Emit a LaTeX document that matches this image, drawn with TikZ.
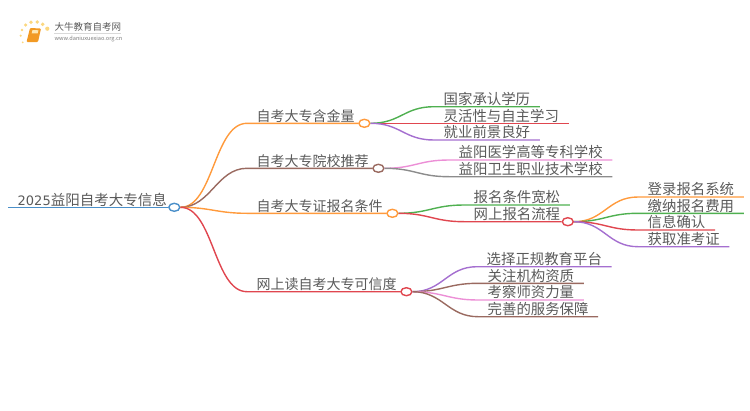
\documentclass[tikz,border=0pt]{standalone}
\usepackage{fontspec}
\setmainfont{Noto Sans CJK SC}
\newfontfamily\DigitFont{DejaVu Sans}
\usetikzlibrary{shapes.geometric,calc}
\definecolor{TextCol}{HTML}{5A5A5A}
\definecolor{RootCol}{HTML}{4A8FC9}
\definecolor{OrangeCol}{HTML}{FF9A3C}
\definecolor{BrownCol}{HTML}{9A6A60}
\definecolor{RedCol}{HTML}{E0464F}
\definecolor{GreenCol}{HTML}{4FB050}
\definecolor{PurpleCol}{HTML}{A56FD0}
\definecolor{PinkCol}{HTML}{EC8FD6}
\definecolor{GrayCol}{HTML}{8C8C8C}
\definecolor{DotCol}{HTML}{FBD77F}
\definecolor{BookCol}{HTML}{F29A24}

\begin{document}
\begin{tikzpicture}[
        %Environment config
        x=1pt,
        y=-1pt,
        line width=1.4pt,
        %Environment styles
        LabelCfg/.style={
            anchor=south west,
            inner xsep=9pt,
            inner ysep=1pt,
            text height=12pt,
            text depth=0.4pt,
            text=TextCol,
            font=\fontsize{14.4}{14.4}\selectfont
        },
        BranchCfg/.style={
            LabelCfg,
            font=\fontsize{14}{14}\selectfont
        },
        DotCfg/.style={
            ellipse,
            draw=#1,
            fill=white,
            line width=1.4pt,
            inner sep=0pt,
            minimum width=11pt,
            minimum height=8pt
        },
        LogoDot/.style={
            circle,
            fill=DotCol,
            inner sep=0pt,
            minimum size=#1
        }
    ]
    \useasboundingbox (0,0) rectangle (750,410);

    %logo
    \path
        (25.7,25) node[LogoDot=3.5pt](D1){}
        (31,22.3) node[LogoDot=3.8pt](D2){}
        (37.3,22) node[LogoDot=3.8pt](D3){}
        (42.7,24.3) node[LogoDot=3.8pt](D4){}
        (47.3,28.7) node[LogoDot=4.2pt](D5){}
        (22,30) node[LogoDot=2.8pt](D6){}
        (20.7,35.7) node[LogoDot=2.4pt](D7){}
        (22.7,42.3) node[LogoDot=2pt](D8){}
        (54,27) node[anchor=west,inner sep=0pt,text=TextCol,
            font=\fontsize{9.5}{9.5}\selectfont](LogoName){大牛教育自考网}
        (54,39) node[anchor=west,inner sep=0pt,text=TextCol!80,
            font=\fontsize{5.6}{5.6}\selectfont](LogoUrl){www.daniuxuexiao.org.cn};
    \fill[BookCol,rounded corners=1pt] (30,28) -- (41,28.5) -- (38,42) -- (26.5,42) -- cycle;
    \fill[DotCol!60] (32.5,30) -- (38.5,30.3) -- (37.6,33.5) -- (31.7,33.3) -- cycle;
    \draw[gray!30,line width=0.6pt] (54,33.3) -- (120.5,33.3);

    %nodes
    \path
        (8,207.3) node[LabelCfg,font=\fontsize{14.5}{14.5}\selectfont](Root){{\DigitFont\fontsize{13}{13}\selectfont 2025}益阳自考大专信息}
        (174.3,207.3) node[DotCfg=RootCol](RootDot){}

        (247,123.3) node[BranchCfg](Gold){自考大专含金量}
        (Gold.south east) node[DotCfg=OrangeCol](GoldDot){}
            (434,106.7) node[LabelCfg](Gold1){国家承认学历}
            (434,123.3) node[LabelCfg](Gold2){灵活性与自主学习}
            (434,140) node[LabelCfg](Gold3){就业前景良好}

        (247,168.3) node[BranchCfg](School){自考大专院校推荐}
        (School.south east) node[DotCfg=BrownCol](SchoolDot){}
            (449,160) node[LabelCfg](School1){益阳医学高等专科学校}
            (449,176.7) node[LabelCfg](School2){益阳卫生职业技术学校}

        (247,213.3) node[BranchCfg](Cond){自考大专证报名条件}
        (Cond.south east) node[DotCfg=OrangeCol](CondDot){}
            (464,205) node[LabelCfg](Cond1){报名条件宽松}
            (464,221.7) node[LabelCfg](Cond2){网上报名流程}
            (Cond2.south east) ++(-2,0) node[DotCfg=RedCol](FlowDot){}
                (638,197) node[LabelCfg](Flow1){登录报名系统}
                (638,213.3) node[LabelCfg](Flow2){缴纳报名费用}
                (638,230) node[LabelCfg](Flow3){信息确认}
                (638,246.7) node[LabelCfg](Flow4){获取准考证}

        (247,291.7) node[BranchCfg](Trust){网上读自考大专可信度}
        (Trust.south east) node[DotCfg=RedCol](TrustDot){}
            (477,266.7) node[LabelCfg](Trust1){选择正规教育平台}
            (478,283.3) node[LabelCfg](Trust2){关注机构资质}
            (478,300) node[LabelCfg](Trust3){考察师资力量}
            (478,316.7) node[LabelCfg](Trust4){完善的服务保障};

    %root
    \draw[RootCol] (Root.south west) -- (RootDot.west);

    \draw[OrangeCol]
        (RootDot.east) .. controls +(33,0) and +(-33,0) .. (Gold.south west) -- (GoldDot.west);

    \draw[BrownCol]
        (RootDot.east) .. controls +(30,0) and +(-30,0) .. (School.south west) -- (SchoolDot.west);

    \draw[OrangeCol]
        (RootDot.east) .. controls +(30,0) and +(-30,0) .. (Cond.south west) -- (CondDot.west);

    \draw[RedCol]
        (RootDot.east) .. controls +(33,0) and +(-33,0) .. (Trust.south west) -- (TrustDot.west);

    %first branch
    \draw[GreenCol]
        (GoldDot.east) .. controls +(30,0) and +(-30,0) .. (Gold1.south west) -- (Gold1.south east);
    \draw[RedCol]
        (GoldDot.east) -- (Gold2.south west) -- (Gold2.south east);
    \draw[PurpleCol]
        (GoldDot.east) .. controls +(30,0) and +(-30,0) .. (Gold3.south west) -- (Gold3.south east);

    %second branch
    \draw[PinkCol]
        (SchoolDot.east) .. controls +(30,0) and +(-30,0) .. (School1.south west) -- (School1.south east);
    \draw[GrayCol]
        (SchoolDot.east) .. controls +(30,0) and +(-30,0) .. (School2.south west) -- (School2.south east);

    %third branch
    \draw[GreenCol]
        (CondDot.east) .. controls +(30,0) and +(-30,0) .. (Cond1.south west) -- (Cond1.south east);
    \draw[RedCol]
        (CondDot.east) .. controls +(30,0) and +(-30,0) .. (Cond2.south west) -- (FlowDot.west);

    \draw[OrangeCol]
        (FlowDot.east) .. controls +(30,0) and +(-30,0) .. (Flow1.south west) -- (Flow1.south east);
    \draw[GreenCol]
        (FlowDot.east) .. controls +(30,0) and +(-30,0) .. (Flow2.south west) -- (Flow2.south east);
    \draw[RedCol]
        (FlowDot.east) .. controls +(30,0) and +(-30,0) .. (Flow3.south west) -- (Flow3.south east);
    \draw[PurpleCol]
        (FlowDot.east) .. controls +(30,0) and +(-30,0) .. (Flow4.south west) -- (Flow4.south east);

    %fourth branch
    \draw[PurpleCol]
        (TrustDot.east) .. controls +(30,0) and +(-30,0) .. (Trust1.south west) -- (Trust1.south east);
    \draw[BrownCol]
        (TrustDot.east) .. controls +(30,0) and +(-30,0) .. (Trust2.south west) -- (Trust2.south east);
    \draw[PinkCol]
        (TrustDot.east) .. controls +(30,0) and +(-30,0) .. (Trust3.south west) -- (Trust3.south east);
    \draw[BrownCol]
        (TrustDot.east) .. controls +(30,0) and +(-30,0) .. (Trust4.south west) -- (Trust4.south east);
\end{tikzpicture}
\end{document}
